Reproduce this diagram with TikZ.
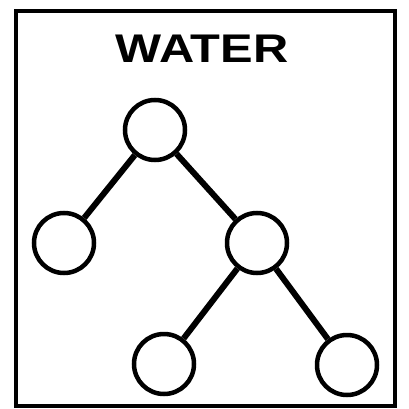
\documentclass[tikz,border=0pt]{standalone}
\usepackage{fontspec}
\setsansfont{Liberation Sans}
\usetikzlibrary{positioning}

\begin{document}
\begin{tikzpicture}[
    x=1pt, y=-1pt,
    frame/.style={draw,line width=4.5pt},
    ball/.style={draw,circle,line width=4.5pt,minimum size=60pt,inner sep=0pt},
    link/.style={line width=6pt}]
  \useasboundingbox (0,0) rectangle (408,409);
  \draw[frame] (16,11) rectangle (395,406);
  \node[font=\sffamily\bfseries\fontsize{40}{40}\selectfont,xscale=1.22,transform shape] (title) at (202,49) {WATER};
  \node[ball] (root) at (155,130) {};
  \node[ball] (leftleaf) at (64,243) {};
  \node[ball] (mid) at (257,243) {};
  \node[ball] (botleft) at (164,364) {};
  \node[ball] (botright) at (347,365) {};
  \draw[link] (root) -- (leftleaf);
  \draw[link] (root) -- (mid);
  \draw[link] (mid) -- (botleft);
  \draw[link] (mid) -- (botright);
\end{tikzpicture}
\end{document}
